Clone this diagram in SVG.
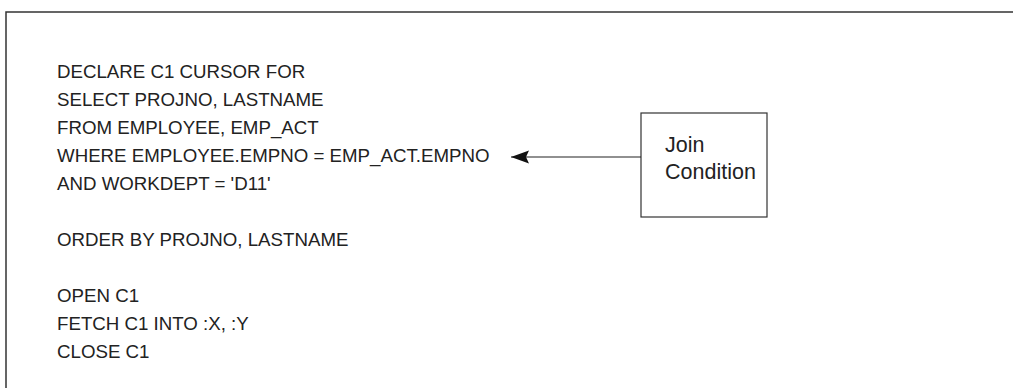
<svg xmlns="http://www.w3.org/2000/svg" width="1013" height="388" viewBox="0 0 1013 388">
<style>
.t{font-family:"Liberation Sans",Arial,sans-serif;font-size:18.7px;fill:#222}
.j{font-family:"Liberation Sans",Arial,sans-serif;font-size:21.5px;fill:#222}
.frame{fill:none;stroke:#333;stroke-width:1.5}
.box{fill:#fff;stroke:#333;stroke-width:1.2}
.conn{stroke:#222;stroke-width:1.2;fill:none}
</style>
<defs>
<marker id="ah" markerWidth="20" markerHeight="14" refX="18" refY="7" orient="auto" markerUnits="userSpaceOnUse">
<path d="M0,0.5 L18,7 L0,13.5 L3,7 Z" fill="#111"/>
</marker>
</defs>
<rect width="1013" height="388" fill="#fff"/>
<g id="frame"><path class="frame" d="M6,390 V12 H1015"/></g>
<g id="code">
<text class="t" x="57" y="78">DECLARE C1 CURSOR FOR</text>
<text class="t" x="57" y="106">SELECT PROJNO, LASTNAME</text>
<text class="t" x="57" y="134">FROM EMPLOYEE, EMP_ACT</text>
<text class="t" x="57" y="162">WHERE EMPLOYEE.EMPNO = EMP_ACT.EMPNO</text>
<text class="t" x="57" y="190">AND WORKDEPT = 'D11'</text>
<text class="t" x="57" y="246">ORDER BY PROJNO, LASTNAME</text>
<text class="t" x="57" y="302">OPEN C1</text>
<text class="t" x="57" y="330">FETCH C1 INTO :X, :Y</text>
<text class="t" x="57" y="358">CLOSE C1</text>
</g>
<g id="join">
<rect class="box" x="641" y="113" width="126" height="104"/>
<text class="j" x="665" y="152">Join</text>
<text class="j" x="665" y="179">Condition</text>
</g>
<g id="connectors">
<path class="conn" d="M641,157 H511" marker-end="url(#ah)"/>
</g>
</svg>
